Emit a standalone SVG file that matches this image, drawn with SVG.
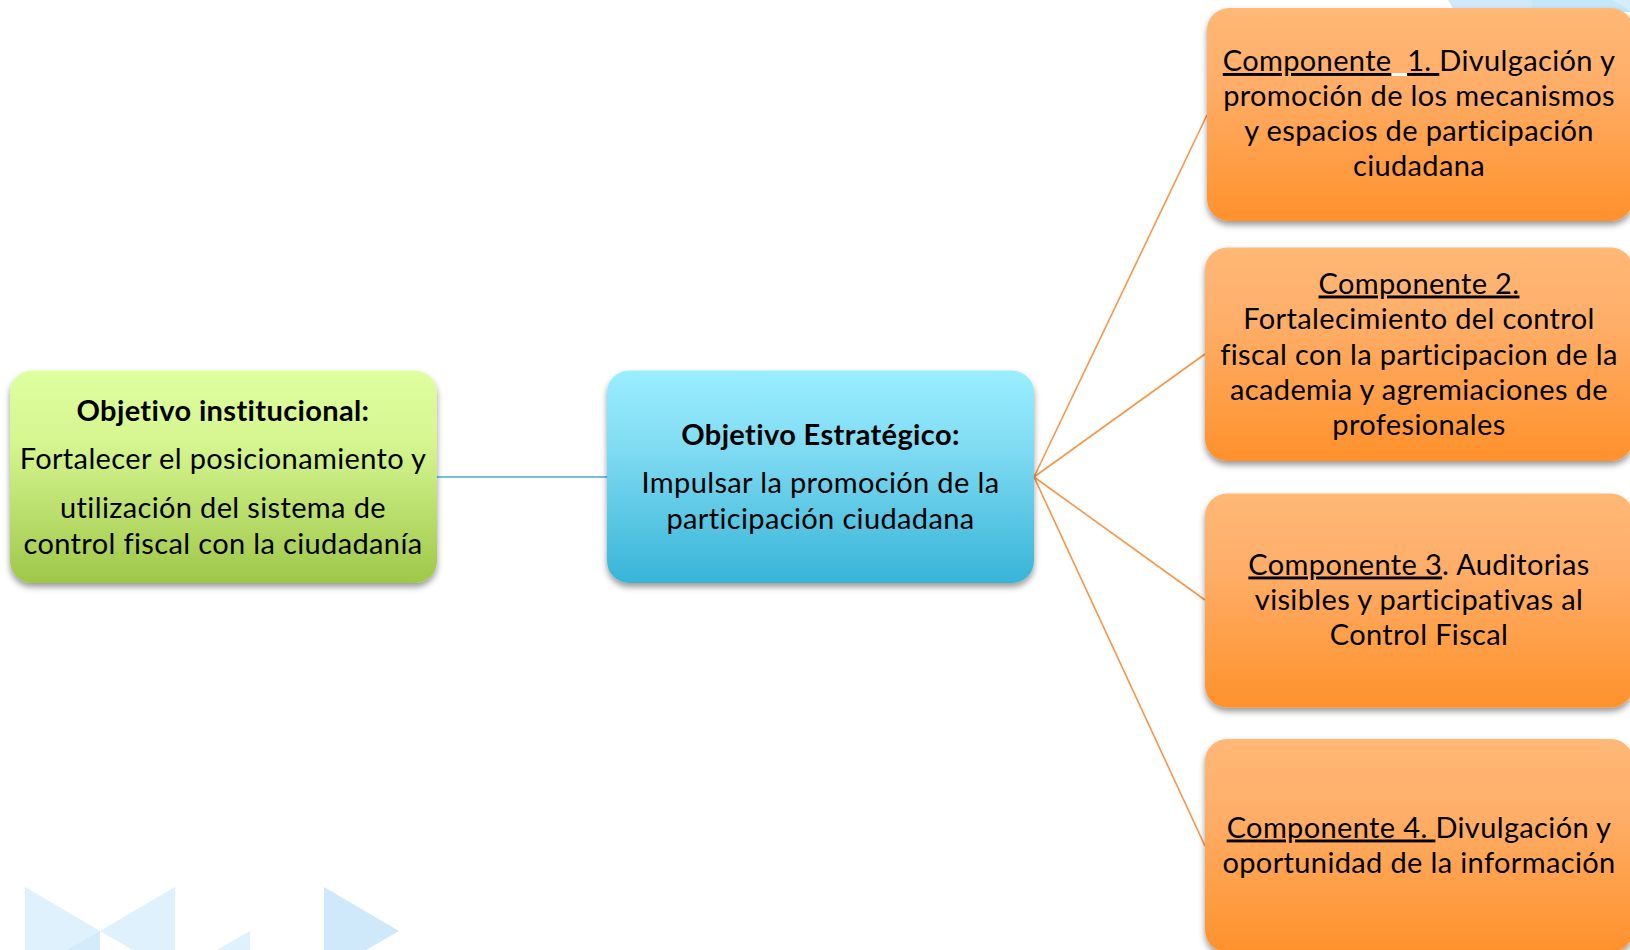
<svg xmlns="http://www.w3.org/2000/svg" width="1630" height="950" viewBox="0 0 1630 950">
<style>
text{font-family:"Lato","Carlito","Liberation Sans",sans-serif;font-size:29px;letter-spacing:.36px;fill:#000;text-anchor:middle;white-space:pre}
.b{font-weight:700}
.u{text-decoration:underline}
.w{fill:#fff;text-decoration:underline}
.n{filter:url(#sh)}
.c{fill:none;stroke-width:1.6}
</style>
<defs>
<linearGradient id="gG" x1="0" y1="0" x2="0" y2="1"><stop offset="0" stop-color="#dfffa0"/><stop offset=".35" stop-color="#d4f58f"/><stop offset="1" stop-color="#9fc749"/></linearGradient>
<linearGradient id="gB" x1="0" y1="0" x2="0" y2="1"><stop offset="0" stop-color="#9aeeff"/><stop offset=".35" stop-color="#81dcf3"/><stop offset="1" stop-color="#38b4d7"/></linearGradient>
<linearGradient id="gO" x1="0" y1="0" x2="0" y2="1"><stop offset="0" stop-color="#ffb876"/><stop offset=".35" stop-color="#ffae69"/><stop offset="1" stop-color="#ff912b"/></linearGradient>
<filter id="sh" x="-5%" y="-5%" width="110%" height="115%"><feDropShadow dx="0" dy="4" stdDeviation="3" flood-color="#000" flood-opacity=".4"/></filter>
</defs>
<g id="background">
<polygon points="25,887 100,931 175,887 175,950 133,950 100,931 100,950 25,950" fill="#dff1fc"/>
<polygon points="67,950 100,931 100,950" fill="#d3ebfb"/>
<polygon points="217,950 250,931 250,950" fill="#dff1fc"/>
<polygon points="324,887 399,931 366,950 324,950" fill="#cfe9fb"/>
<polygon points="1448,0 1630,0 1630,12 1455,12" fill="#cfe9fb"/>
<polygon points="1532,0 1630,0 1630,12 1532,12" fill="#c5e7fa"/>
<polygon points="1612,0 1630,0 1630,10" fill="#d6eefc"/>
</g>
<g id="connectors">
<line class="c" x1="437" y1="477" x2="607" y2="477" stroke="#4bacc6"/>
<line class="c" x1="1034" y1="477" x2="1207" y2="115" stroke="#f79646"/>
<line class="c" x1="1034" y1="477" x2="1205" y2="354" stroke="#f79646"/>
<line class="c" x1="1034" y1="477" x2="1205" y2="600" stroke="#f79646"/>
<line class="c" x1="1034" y1="477" x2="1205" y2="846" stroke="#f79646"/>
</g>
<g id="objetivo-institucional">
<rect class="n" x="10" y="370.5" width="427" height="212.5" rx="22" fill="url(#gG)"/>
<text x="223" y="421" class="b">Objetivo institucional:</text>
<text x="223" y="469">Fortalecer el posicionamiento y</text>
<text x="223" y="518">utilización del sistema de</text>
<text x="223" y="553.5">control fiscal con la ciudadanía</text>
</g>
<g id="objetivo-estrategico">
<rect class="n" x="607" y="370.5" width="427" height="212.5" rx="22" fill="url(#gB)"/>
<text x="820.5" y="445" class="b">Objetivo Estratégico:</text>
<text x="820.5" y="493">Impulsar la promoción de la</text>
<text x="820.5" y="529">participación ciudadana</text>
</g>
<g id="componente-1">
<rect class="n" x="1207" y="8" width="426" height="213" rx="22" fill="url(#gO)"/>
<text x="1419" y="71"><tspan class="u">Componente</tspan><tspan class="w">  </tspan><tspan class="u">1. </tspan>Divulgación y</text>
<text x="1419" y="106">promoción de los mecanismos</text>
<text x="1419" y="141">y espacios de participación</text>
<text x="1419" y="176">ciudadana</text>
</g>
<g id="componente-2">
<rect class="n" x="1205" y="247.5" width="428" height="213.5" rx="22" fill="url(#gO)"/>
<text x="1419" y="293.5" class="u">Componente 2.</text>
<text x="1419" y="328.5">Fortalecimiento del control</text>
<text x="1419" y="364.5">fiscal con la participacion de la</text>
<text x="1419" y="399.5">academia y agremiaciones de</text>
<text x="1419" y="434.5">profesionales</text>
</g>
<g id="componente-3">
<rect class="n" x="1205" y="493.5" width="428" height="214" rx="22" fill="url(#gO)"/>
<text x="1419" y="574.5"><tspan class="u">Componente 3</tspan>. Auditorias</text>
<text x="1419" y="609.5">visibles y participativas al</text>
<text x="1419" y="644.5">Control Fiscal</text>
</g>
<g id="componente-4">
<rect class="n" x="1205" y="739" width="428" height="213" rx="22" fill="url(#gO)"/>
<text x="1419" y="837.5"><tspan class="u">Componente 4. </tspan>Divulgación y</text>
<text x="1419" y="872.5">oportunidad de la información</text>
</g>
</svg>
